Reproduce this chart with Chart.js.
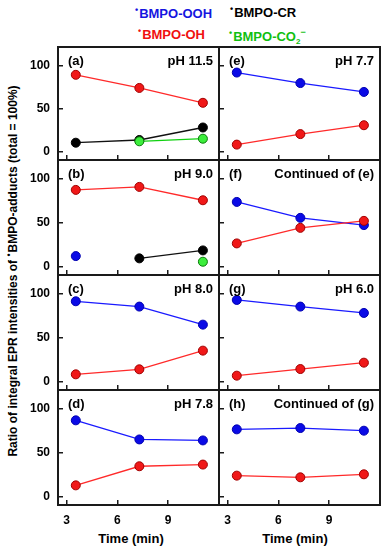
<!DOCTYPE html>
<html><head><meta charset="utf-8">
<script src="https://cdn.jsdelivr.net/npm/chart.js@4"></script>
<style>
html,body{margin:0;padding:0;background:#fff;}
#wrap{position:relative;width:388px;height:550px;overflow:hidden;font-family:'Liberation Sans',Arial,sans-serif;font-weight:bold;}
canvas{position:absolute;left:0;top:0;}
.t{position:absolute;white-space:nowrap;font-size:13px;line-height:1;}
.d{font-size:9px;position:relative;top:-5px;margin-right:1px;}
</style></head><body><div id="wrap">
<div class="t" style="left:135px;top:7px;color:#1515e0;"><span class="d">•</span>BMPO-OOH</div>
<div class="t" style="left:230px;top:6px;color:#000;"><span class="d">•</span>BMPO-CR</div>
<div class="t" style="left:138px;top:28px;color:#f01010;"><span class="d">•</span>BMPO-OH</div>
<div class="t" style="left:229px;top:28px;color:#10c010;"><span class="d">•</span>BMPO-CO<sub style="font-size:8px;vertical-align:-3px;">2</sub><sup style="font-size:9px;vertical-align:6px;">−</sup></div>
<div class="t" style="left:13px;top:271px;transform:translate(-50%,-50%) rotate(-90deg);font-size:12px;">Ratio of integral EPR intensities of <span class="d">•</span>BMPO-adducts (total = 100%)</div>
<div class="t" style="left:131px;top:538px;transform:translate(-50%,-50%);">Time (min)</div>
<div class="t" style="left:295px;top:538px;transform:translate(-50%,-50%);">Time (min)</div>
</div>
<script>
const times = [3.55, 7.3, 11.05];
const xTicks = [3, 6, 9];
const yTicks = [0, 50, 100];
const panelLabels = ['(a)','(b)','(c)','(d)','(e)','(f)','(g)','(h)'];
const panelTitles = ['pH 11.5','pH 9.0','pH 8.0','pH 7.8','pH 7.7','Continued of (e)','pH 6.0','Continued of (g)'];
// per panel series, order a..h
const oohValues = [
  [null, null, null],
  [12.4, null, null],
  [91.3, 85.3, 64.9],
  [86.7, 65.1, 64.0],
  [91.6, 79.5, 69.3],
  [73.6, 55.6, 47.4],
  [92.8, 85.3, 78.1],
  [76.5, 78.0, 75.0]
];
const ohValues = [
  [89.0, 73.9, 56.8],
  [87.2, 90.6, 75.5],
  [8.7, 14.4, 35.5],
  [13.2, 34.8, 36.7],
  [8.7, 20.8, 31.0],
  [26.7, 44.3, 52.2],
  [7.2, 14.7, 21.9],
  [24.2, 22.3, 25.7]
];
const crValues = [
  [10.9, 14.0, 28.4],
  [null, 9.8, 18.8],
  [null, null, null],
  [null, null, null],
  [null, null, null],
  [null, null, null],
  [null, null, null],
  [null, null, null]
];
const co2Values = [
  [null, 12.5, 15.5],
  [null, null, 6.0],
  [null, null, null],
  [null, null, null],
  [null, null, null],
  [null, null, null],
  [null, null, null],
  [null, null, null]
];

const W = 388, H = 550;
const colX = [[58, 219], [219, 380]];
const rowY = [[47, 160], [160, 275], [275, 390], [390, 505]];
const FONT = "'Liberation Sans', Arial, sans-serif";
const YAXW = 50, XAXH = 30;

const framePlugin = {
  id: 'frame',
  afterDraw(chart, args, opts) {
    const {ctx, chartArea: a} = chart;
    ctx.save();
    ctx.strokeStyle = '#1a1a1a';
    ctx.lineWidth = 2;
    ctx.strokeRect(a.left, a.top, a.right - a.left, a.bottom - a.top);
    ctx.fillStyle = '#000';
    ctx.font = 'bold 13px ' + FONT;
    ctx.textBaseline = 'middle';
    ctx.textAlign = 'left';
    ctx.fillText(opts.label, a.left + 10, a.top + 14);
    ctx.textAlign = 'right';
    ctx.fillText(opts.title, a.right - 6, a.top + 14);
    ctx.restore();
  }
};

function ds(label, data, line, fill, border) {
  return {
    label, data: data.map((v, i) => ({x: times[i], y: v})),
    borderColor: line, backgroundColor: fill,
    pointBackgroundColor: fill, pointBorderColor: border,
    borderWidth: 1.3, pointRadius: 4.5, pointBorderWidth: 1,
    spanGaps: false, tension: 0
  };
}

for (let p = 0; p < 8; p++) {
  const col = p < 4 ? 0 : 1;
  const row = p % 4;
  const [l, r] = colX[col];
  const [t, b] = rowY[row];
  const cv = document.createElement('canvas');
  cv.width = W; cv.height = H;
  cv.style.width = W + 'px'; cv.style.height = H + 'px';
  document.getElementById('wrap').appendChild(cv);
  new Chart(cv, {
    type: 'line',
    data: {
      datasets: [
        ds('BMPO-CO2', co2Values[p], '#10d010', '#3cee3c', '#0a7a0a'),
        ds('BMPO-CR', crValues[p], '#111', '#000', '#000'),
        ds('BMPO-OH', ohValues[p], '#ff2a2a', '#f01818', '#a00000'),
        ds('BMPO-OOH', oohValues[p], '#1a1aff', '#0a0ae6', '#0000b0')
      ]
    },
    options: {
      responsive: false, animation: false, events: [],
      layout: {padding: {left: l - YAXW, right: W - r, top: t, bottom: H - b - XAXH}},
      plugins: {legend: {display: false}, tooltip: {enabled: false},
        frame: {label: panelLabels[p], title: panelTitles[p]}},
      scales: {
        x: {
          type: 'linear', min: 2.5, max: 12,
          afterBuildTicks: s => { s.ticks = xTicks.map(v => ({value: v})); },
          afterFit: s => { s.height = XAXH; },
          border: {display: false},
          grid: {display: true, drawOnChartArea: false, drawTicks: true, tickLength: -5, color: '#1a1a1a', lineWidth: 1.5},
          ticks: {display: row === 3, padding: 13, color: '#000', font: {family: FONT, size: 12, weight: 'bold'}, maxRotation: 0}
        },
        y: {
          type: 'linear', min: -9, max: 121,
          afterBuildTicks: s => { s.ticks = yTicks.map(v => ({value: v})); },
          afterFit: s => { s.width = YAXW; },
          border: {display: false},
          grid: {display: true, drawOnChartArea: false, drawTicks: true, tickLength: -5, color: '#1a1a1a', lineWidth: 1.5},
          ticks: {display: col === 0, padding: 13, color: '#000', font: {family: FONT, size: 12, weight: 'bold'}}
        }
      }
    },
    plugins: [framePlugin]
  });
}
</script>
</body></html>
